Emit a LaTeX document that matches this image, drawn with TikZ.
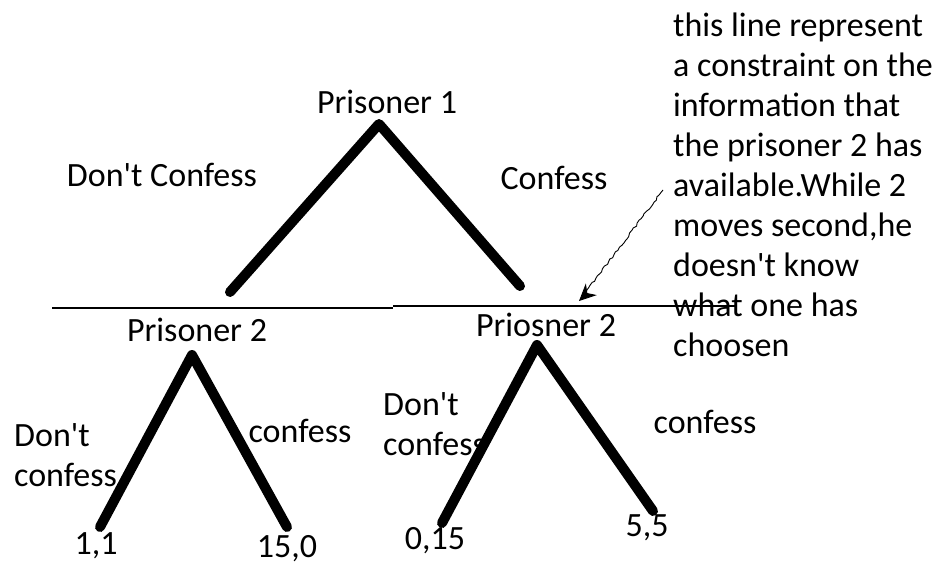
\documentclass[tikz,border=0pt]{standalone}
\usepackage{fontspec}
\setmainfont{Carlito}[Ligatures=TeXOff]
\usetikzlibrary{arrows.meta, positioning, decorations.pathmorphing}

\begin{document}
\begin{tikzpicture}[x=1pt, y=-1pt,
  lbl/.style={font=\fontsize{34}{40}\selectfont, inner sep=0pt},
  branch/.style={line width=10pt, line cap=round, line join=round},
  infoline/.style={line width=1.6pt},
  scribble/.style={line width=0.9pt, decorate,
    decoration={random steps, segment length=3pt, amplitude=0.9pt}}]
  \useasboundingbox (0,0) rectangle (934,565);

  % first mover
  \node[lbl] (p1) at (387,102) {Prisoner 1};
  \coordinate (r) at (379,124);
  \coordinate (ra) at (230,292);
  \coordinate (rb) at (520,286);
  \draw[branch] (ra) -- (r) -- (rb);
  \node[lbl] (dc) at (162,175) {Don't Confess};
  \node[lbl] (cf) at (554,178) {Confess};

  % information set line
  \coordinate (l0) at (52,308);
  \coordinate (l1) at (393,308);
  \coordinate (l2) at (393,306);
  \coordinate (l3) at (737,306);
  \draw[infoline] (l0) -- (l1);
  \draw[infoline] (l2) -- (l3);

  % left subtree (Prisoner 2)
  \node[lbl] (p2a) at (197,330) {Prisoner 2};
  \coordinate (s) at (192,355);
  \coordinate (sa) at (100,527);
  \coordinate (sb) at (287,527);
  \draw[branch] (sa) -- (s) -- (sb);
  \node[lbl, anchor=west, align=left] (dca) at (14,455) {Don't\\confess};
  \node[lbl] (cfa) at (300,431) {confess};
  \node[lbl] (u1) at (96,546) {1,1};
  \node[lbl] (u2) at (287,549) {15,0};

  % right subtree (Priosner 2)
  \node[lbl] (p2b) at (546,325) {Priosner 2};
  \coordinate (t) at (537,345);
  \coordinate (ta) at (442,523);
  \coordinate (tb) at (653,511);
  \draw[branch] (ta) -- (t) -- (tb);
  \node[lbl, anchor=west, align=left] (dcb) at (383,424) {Don't\\confess};
  \node[lbl] (cfb) at (705,422) {confess};
  \node[lbl] (u3) at (435,541) {0,15};
  \node[lbl] (u4) at (647,528) {5,5};

  % note on the line
  \node[lbl, anchor=north west, align=left] (note) at (673,13)
    {this line represent\\a constraint on the\\information that\\the prisoner 2 has\\
     available.While 2\\moves second,he\\doesn't know\\what one has\\choosen};
  \coordinate (tip) at (579,301);
  \draw[scribble, -{Stealth[length=17pt, width=16pt]}] (663,190) -- (tip);
\end{tikzpicture}
\end{document}
